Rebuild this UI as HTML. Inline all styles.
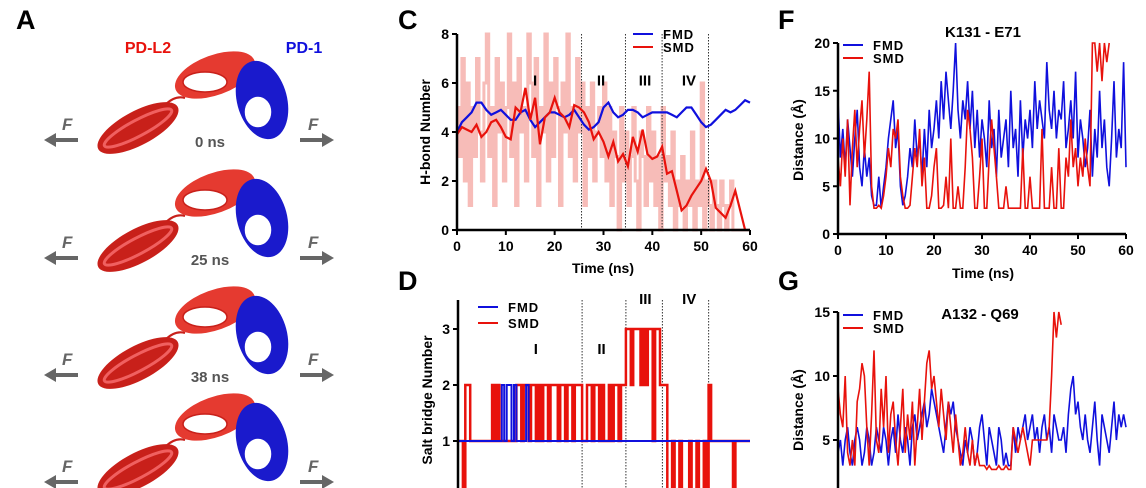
<!DOCTYPE html>
<html><head><meta charset="utf-8">
<style>
html,body{margin:0;background:#fff;width:1146px;height:488px;overflow:hidden;}
svg{display:block;font-family:"Liberation Sans",sans-serif;}
text{font-weight:bold;}
</style></head>
<body>
<svg id="fig" width="1146" height="488" viewBox="0 0 1146 488" xmlns="http://www.w3.org/2000/svg">
<rect width="1146" height="488" fill="#fff"/>
<g id="panelA"></g>
<g id="panelC"></g>
<g id="panelD"></g>
<g id="panelF"></g>
<g id="panelG"></g>
</svg>
<script>
// ---------- DATA ----------
const cTicksX = [0,10,20,30,40,50,60];
const cTicksY = [0,2,4,6,8];
const phaseLines = [25.5,34.5,42,51.5];
const phaseLabels = ["I","II","III","IV"];
const phaseLabelX = [16,29.5,38.5,47.5];
const cFMD = [4.0,4.4,4.6,4.8,5.2,5.2,4.9,4.7,4.8,4.9,4.7,4.5,4.5,4.8,4.9,4.5,4.2,4.4,4.6,4.8,4.8,4.7,4.6,4.7,4.9,4.6,4.3,4.1,4.2,4.4,5.0,5.2,4.8,4.6,4.7,4.9,4.9,4.8,4.6,4.7,4.8,4.8,4.8,4.8,4.7,4.6,4.8,5.0,5.0,4.7,4.4,4.2,4.3,4.5,4.7,4.9,4.8,4.9,5.1,5.3,5.2];
const cSMD = [3.9,4.2,4.1,4.0,4.3,3.8,4.0,4.4,4.5,4.2,3.8,3.7,5.0,4.8,5.8,4.5,5.4,3.5,4.6,4.8,5.4,4.8,4.6,4.2,5.1,5.0,4.8,4.4,3.7,4.0,3.6,3.0,3.6,2.8,3.1,2.6,3.8,3.2,4.1,3.1,2.9,3.0,3.4,2.3,2.4,1.6,0.8,1.0,1.4,1.7,2.0,2.5,2.0,0.9,0.7,0.5,1.0,1.6,0.8,0.0];
const cSMDraw = [5,3,7,2,6,1,5,3,7,4,2,6,8,3,5,1,7,4,6,2,5,8,3,6,1,7,4,5,2,8,6,3,7,1,5,4,8,2,6,3,7,5,1,6,4,8,3,5,2,7,4,6,1,5,3,6,2,4,5,3,6,2,5,1,4,3,0,5,2,4,1,3,5,2,0,4,3,1,5,2,4,1,3,0,5,2,3,1,4,0,2,1,3,0,2,1,4,0,2,1,6,0,2,1,0,2,1,0,2,1,0,1,2,0,0,0,0,0,0,0,0];
const dTicksY = [1,2,3];
const dSMD = [1,1,0,2,2,1,1,1,1,1,1,1,1,1,2,1,2,1,1,1,1,1,1,1,2,2,1,2,2,1,2,2,1,2,1,2,2,1,2,2,2,1,2,2,1,2,2,1,2,2,2,1,1,2,2,1,2,2,1,2,1,1,2,1,2,2,1,2,2,3,3,2,3,3,3,2,3,2,3,3,1,3,3,2,2,2,0,0,1,0,0,1,0,0,0,1,0,0,1,0,0,1,0,2,1,1,1,1,1,1,1,1,1,0,1,1,1,1,1,1,1];
const dFMD = [1,1,1,1,1,1,1,1,1,1,1,1,1,1,1,1,1,1,2,1,2,2,1,2,1,1,1,1,2,1,1,1,1,1,1,1,1,1,1,1,1,1,1,1,1,1,1,1,1,1,1,1,1,1,1,1,1,1,1,1,1,1,1,1,1,1,1,1,1,1,1,1,1,1,1,1,1,1,1,1,1,1,1,1,1,1,1,1,1,1,1,1,1,1,1,1,1,1,1,1,1,1,1,1,1,1,1,1,1,1,1,1,1,1,1,1,1,1,1,1,1];
const fTicksY = [0,5,10,15,20];
const fFMD = [14,8,11,7,12,9,6,10,13,7,5,9,6,8,4,3,3,6,2.7,5,7,10,12,14,9,11,5,3,4,6,9,7,12,8,10,6,11,7,13,9,11,14,10,16,12,17,14,11,15,20,13,10,14,12,16,11,15,9,13,8,12,10,7,14,9,11,6,13,8,10,12,7,15,9,11,6,14,8,12,10,13,9,16,11,14,12,10,18,13,11,15,10,13,12,16,9,11,14,10,17,8,12,10,7,9,13,6,11,8,15,9,12,7,5,10,16,8,11,9,18,7];
const fSMD = [8,5,10,6,12,3,9,13,7,11,14,8,12,17,5,2.7,2.7,3,2.7,4,6,9,7,11,10,12,6,4,2.7,2.7,3,6,9,7,11,5,8,2.7,2.7,4,7,9,2.7,2.7,3,6,2.7,10,2.7,2.7,5,2.7,2.7,7,13,11,8,2.7,2.7,6,10,2.7,2.7,8,12,9,6,2.7,2.7,2.7,5,2.7,2.7,2.7,2.7,2.7,2.7,9,2.7,2.7,6,2.7,2.7,2.7,2.7,11,2.7,2.7,2.7,7,2.7,2.7,9,2.7,2.7,8,6,12,7,9,5,8,6,10,7,5,20,20,17,20,16,20,18,20];
const gTicksY = [5,10,15];
const gFMD = [4,5,3,5,6,4,3,5,6,5,3,4,6,5,3,4,6,5,4,6,5,3,5,6,4,7,5,4,6,5,3,6,7,5,6,7,8,6,7,9,8,7,6,5,4,6,8,7,8,6,5,4,3,5,4,6,5,3,4,6,7,5,3,6,5,4,3,6,5,3,4,3,3,6,4,6,5,6,7,5,6,7,5,6,4,6,7,5,6,4,7,6,5,5,6,4,7,9,10,7,8,6,5,7,5,4,6,8,5,3,7,6,5,4,6,8,5,7,6,7,6];
const gSMD = [9,7,6,10,4,3,5,3,8,9,11,10,6,3,7,12,5,4,9,6,10,4,7,8,5,3,6,9,4,7,5,8,3,6,9,5,8,11,12,9,10,8,6,9,7,5,8,6,4,7,5,3,4,6,4,3,5,3,4,3,3,3,2.7,3,2.7,2.7,2.7,3,2.7,2.7,3,2.7,2.7,6,5,4,5,6,5,4,3,5,5,5,5,5,5,5,6,10,15,13,15,14];

const NS="http://www.w3.org/2000/svg";
const RED="#e8120c", BLUE="#1010dd";
function mk(parent,tag,attrs,txt){const e=document.createElementNS(NS,tag);for(const k in attrs)e.setAttribute(k,attrs[k]);if(txt!==undefined)e.textContent=txt;parent.appendChild(e);return e;}
function scale(d0,d1,r0,r1){return v=>r0+(v-d0)/(d1-d0)*(r1-r0);}
function linePath(arr,dt,x,y,clipMax,step){let d="";arr.forEach((v,i)=>{const vv=clipMax!==undefined?Math.min(v,clipMax):v;const X=x(i*dt),Y=y(vv);
 if(i===0)d+="M"+X.toFixed(1)+" "+Y.toFixed(1);else if(step){d+="H"+X.toFixed(1)+"V"+Y.toFixed(1);}else d+="L"+X.toFixed(1)+" "+Y.toFixed(1);});return d;}
function axes(g,x,y,xt,yt,x0,x1,y0,y1,showX){
 const ax=mk(g,"path",{d:`M${x(x0)} ${y(y1)}V${y(y0)}`+(showX?`H${x(x1)}`:""),stroke:"#000","stroke-width":2.5,fill:"none"});
 
 yt.forEach(v=>{mk(g,"line",{x1:x(x0)-5,x2:x(x0),y1:y(v),y2:y(v),stroke:"#000","stroke-width":2});
  const t=mk(g,"text",{x:x(x0)-8,y:y(v)+5,"text-anchor":"end","font-size":14},v);
  });
 if(showX)xt.forEach(v=>{mk(g,"line",{x1:x(v),x2:x(v),y1:y(y0),y2:y(y0)+5,stroke:"#000","stroke-width":2});
  const t=mk(g,"text",{x:x(v),y:y(y0)+21,"text-anchor":"middle","font-size":14},v);
  });
}
function legend(g,x0,y0,gap){[["FMD",BLUE],["SMD",RED]].forEach((e,i)=>{
 const l=mk(g,"line",{x1:x0,x2:x0+20,y1:y0+i*gap,y2:y0+i*gap,stroke:e[1],"stroke-width":2});
 
 const t=mk(g,"text",{x:x0+30,y:y0+i*gap+5,"font-size":13,"letter-spacing":"1"},e[0]);
 });}
function rotLabel(g,x,y,s,name){const t=mk(g,"text",{x:x,y:y,"text-anchor":"middle","font-size":14,transform:`rotate(-90 ${x} ${y})`},s);
 }
function letter(x,y,s){const t=mk(document.getElementById('fig'),"text",{x:x,y:y,"font-size":27},s);
 }

// ---------- PANEL C ----------
(function(){const g=document.getElementById('panelC');
 const x=scale(0,60,457,750),y=scale(0,8,230,34);
 const raw=mk(g,"path",{d:linePath(cSMDraw,0.5,x,y,undefined,true),stroke:"#f7bcb8","stroke-width":3,fill:"none"});
 
 phaseLines.forEach(v=>{const l=mk(g,"line",{x1:x(v),x2:x(v),y1:y(8),y2:y(0),stroke:"#333","stroke-width":1,"stroke-dasharray":"1.5 1.5"});});
 const f=mk(g,"path",{d:linePath(cFMD,1,x,y),stroke:BLUE,"stroke-width":2.2,fill:"none"});
 
 const s=mk(g,"path",{d:linePath(cSMD,1,x,y),stroke:RED,"stroke-width":2.2,fill:"none"});
 
 phaseLabels.forEach((p,i)=>{const t=mk(g,"text",{x:x(phaseLabelX[i]),y:y(5.9),"text-anchor":"middle","font-size":15},p);});
 axes(g,x,y,cTicksX,cTicksY,0,60,0,8,true);
 legend(g,633,34,13);
 rotLabel(g,430,132,"H-bond Number","y-axis-title");
 const t=mk(g,"text",{x:603,y:273,"text-anchor":"middle","font-size":14},"Time (ns)");
})();

// ---------- PANEL D ----------
(function(){const g=document.getElementById('panelD');
 const x=scale(0,60,458,750),y=scale(1,2,441,385);
 phaseLines.forEach(v=>{const l=mk(g,"line",{x1:x(v),x2:x(v),y1:300,y2:488,stroke:"#333","stroke-width":1,"stroke-dasharray":"1.5 1.5"});});
 const s=mk(g,"path",{d:linePath(dSMD,0.5,x,y,undefined,true),stroke:RED,"stroke-width":2.5,fill:"none"});
 
 const f=mk(g,"path",{d:linePath(dFMD,0.5,x,y,undefined,true),stroke:BLUE,"stroke-width":2,fill:"none"});
 
 const ly=[2.55,2.55,3.45,3.45];
 phaseLabels.forEach((p,i)=>{const t=mk(g,"text",{x:x(phaseLabelX[i]),y:y(ly[i]),"text-anchor":"middle","font-size":15},p);});
 mk(g,"line",{x1:x(0),x2:x(0),y1:300,y2:488,stroke:"#000","stroke-width":2.5});
 dTicksY.forEach(v=>{mk(g,"line",{x1:x(0)-5,x2:x(0),y1:y(v),y2:y(v),stroke:"#000","stroke-width":2});
  const t=mk(g,"text",{x:x(0)-8,y:y(v)+5,"text-anchor":"end","font-size":14},v);});
 legend(g,478,307,16);
 rotLabel(g,432,400,"Salt bridge Number","y-axis-title");
})();

// ---------- PANEL F ----------
(function(){const g=document.getElementById('panelF');
 const x=scale(0,60,838,1126),y=scale(0,20,234,43);
 const f=mk(g,"path",{d:linePath(fFMD,0.5,x,y,20),stroke:BLUE,"stroke-width":1.6,fill:"none"});
 
 const s=mk(g,"path",{d:linePath(fSMD,0.5,x,y,20),stroke:RED,"stroke-width":1.6,fill:"none"});
 
 axes(g,x,y,cTicksX,fTicksY,0,60,0,20,true);
 legend(g,843,45,13);
 rotLabel(g,803,140,"Distance (Å)","y-axis-title");
 let t=mk(g,"text",{x:983,y:37,"text-anchor":"middle","font-size":15},"K131 - E71");
 t=mk(g,"text",{x:983,y:278,"text-anchor":"middle","font-size":14},"Time (ns)");
})();

// ---------- PANEL G ----------
(function(){const g=document.getElementById('panelG');
 const x=scale(0,60,838,1126),y=scale(5,10,440,376);
 const f=mk(g,"path",{d:linePath(gFMD,0.5,x,y,15),stroke:BLUE,"stroke-width":1.6,fill:"none"});
 
 const s=mk(g,"path",{d:linePath(gSMD,0.5,x,y,15),stroke:RED,"stroke-width":1.6,fill:"none"});
 
 mk(g,"line",{x1:x(0),x2:x(0),y1:y(15),y2:488,stroke:"#000","stroke-width":2.5});
 gTicksY.forEach(v=>{mk(g,"line",{x1:x(0)-5,x2:x(0),y1:y(v),y2:y(v),stroke:"#000","stroke-width":2});
  const t=mk(g,"text",{x:x(0)-8,y:y(v)+5,"text-anchor":"end","font-size":14},v);});
 legend(g,843,315,13);
 rotLabel(g,803,410,"Distance (Å)","y-axis-title");
 const t=mk(g,"text",{x:980,y:319,"text-anchor":"middle","font-size":15},"A132 - Q69");
})();

// ---------- PANEL A ----------
(function(){const g=document.getElementById('panelA');
 const rowsY=[0,118,235,342];
 const times=["0 ns","25 ns","38 ns",""];
 rowsY.forEach((dy,i)=>{
  const r=mk(g,"g",{transform:`translate(0 ${dy})`});
  
  mk(r,"ellipse",{cx:138,cy:128,rx:45,ry:17,fill:"#c8201a",transform:"rotate(-28 138 128)"});
  mk(r,"ellipse",{cx:138,cy:128,rx:38,ry:8,fill:"none",stroke:"#f06060","stroke-width":3,transform:"rotate(-28 138 128)"});
  mk(r,"path",{d:"M165 105 Q175 95 185 98",stroke:"#c8201a","stroke-width":2,fill:"none"});
  mk(r,"ellipse",{cx:215,cy:75,rx:42,ry:20,fill:"#e53a30",transform:"rotate(-20 215 75)"});
  mk(r,"ellipse",{cx:205,cy:82,rx:22,ry:10,fill:"#fff",stroke:"#c8201a","stroke-width":1.5});
  mk(r,"ellipse",{cx:262,cy:100,rx:25,ry:40,fill:"#1a1acc",transform:"rotate(-15 262 100)"});
  mk(r,"ellipse",{cx:258,cy:112,rx:14,ry:16,fill:"#fff",stroke:"#1a1acc","stroke-width":1.5});
  mk(r,"path",{d:"M78 140H55",stroke:"#666","stroke-width":4});
  mk(r,"polygon",{points:"44,140 56,133 56,147",fill:"#666"});
  mk(r,"path",{d:"M300 140H323",stroke:"#666","stroke-width":4});
  mk(r,"polygon",{points:"334,140 322,133 322,147",fill:"#666"});
  mk(r,"text",{x:62,y:130,"font-size":17,"font-style":"italic",fill:"#666"},"F");
  mk(r,"text",{x:308,y:130,"font-size":17,"font-style":"italic",fill:"#666"},"F");
  if(times[i]){const t=mk(r,"text",{x:210,y:147,"text-anchor":"middle","font-size":15,fill:"#555"},times[i]);}
 });
 let t=mk(g,"text",{x:148,y:53,"text-anchor":"middle","font-size":16,fill:RED},"PD-L2");
 t=mk(g,"text",{x:304,y:53,"text-anchor":"middle","font-size":16,fill:BLUE},"PD-1");
})();

letter(16,29,"A");letter(398,29,"C");letter(398,290,"D");letter(778,29,"F");letter(778,290,"G");
</script>
</body></html>
